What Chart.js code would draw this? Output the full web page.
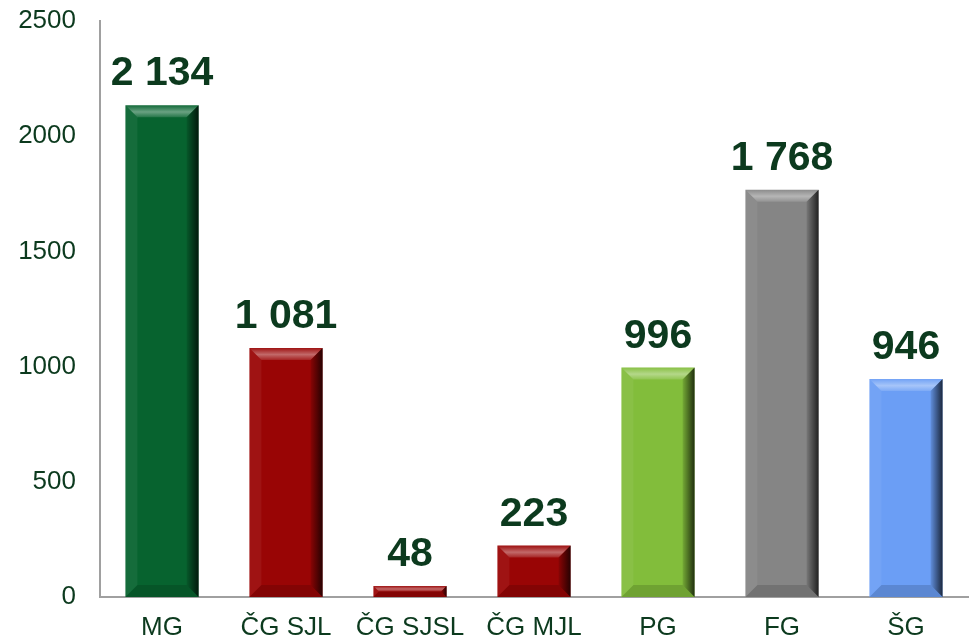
<!DOCTYPE html>
<html>
<head>
<meta charset="utf-8">
<script src="https://cdn.jsdelivr.net/npm/chart.js@4"></script>
<style>
  html, body { margin: 0; padding: 0; background: #fff; }
  #wrap { width: 977px; height: 643px; position: relative; }
</style>
</head>
<body>
<div id="wrap"><canvas id="chart" width="977" height="643"></canvas></div>
<script>
/* global Chart */

const categories = ['MG', 'ČG SJL', 'ČG SJSL', 'ČG MJL', 'PG', 'FG', 'ŠG']
const values = [2134, 1081, 48, 223, 996, 1768, 946]
const barColors = ['#07632f', '#990505', '#990505', '#990505', '#82bd3b', '#858585', '#6b9ef5']
const textColor = '#0c3a1e'
const fontFamily = '"Liberation Sans", Arial, sans-serif'

function formatNum (v) {
  return String(v).replace(/\B(?=(\d{3})+(?!\d))/g, ' ')
}

// bevel overlay on each bar
const bevelPlugin = {
  id: 'bevel',
  afterDatasetsDraw (chart) {
    const ctx = chart.ctx
    chart.getDatasetMeta(0).data.forEach(bar => {
      const l = bar.x - bar.width / 2
      const r = bar.x + bar.width / 2
      const t = bar.y
      const btm = bar.base
      const b = Math.min(12, (btm - t) / 2)
      ctx.save()
      // top band
      let g = ctx.createLinearGradient(0, t, 0, t + b)
      g.addColorStop(0, 'rgba(255,255,255,0.05)')
      g.addColorStop(0.55, 'rgba(255,255,255,0.4)')
      g.addColorStop(1, 'rgba(255,255,255,0.12)')
      ctx.fillStyle = g
      ctx.beginPath()
      ctx.moveTo(l, t); ctx.lineTo(r, t); ctx.lineTo(r - b, t + b); ctx.lineTo(l + b, t + b); ctx.closePath()
      ctx.fill()
      // left band
      ctx.fillStyle = 'rgba(255,255,255,0.06)'
      ctx.beginPath()
      ctx.moveTo(l, t); ctx.lineTo(l + b, t + b); ctx.lineTo(l + b, btm - b); ctx.lineTo(l, btm); ctx.closePath()
      ctx.fill()
      // right band
      g = ctx.createLinearGradient(r - b, 0, r, 0)
      g.addColorStop(0, 'rgba(0,0,0,0.1)')
      g.addColorStop(1, 'rgba(0,0,0,0.75)')
      ctx.fillStyle = g
      ctx.beginPath()
      ctx.moveTo(r, t); ctx.lineTo(r, btm); ctx.lineTo(r - b, btm - b); ctx.lineTo(r - b, t + b); ctx.closePath()
      ctx.fill()
      // bottom band
      ctx.fillStyle = 'rgba(0,0,0,0.14)'
      ctx.beginPath()
      ctx.moveTo(l, btm); ctx.lineTo(r, btm); ctx.lineTo(r - b, btm - b); ctx.lineTo(l + b, btm - b); ctx.closePath()
      ctx.fill()
      ctx.restore()
    })
  }
}

const valueLabels = {
  id: 'valueLabels',
  afterDatasetsDraw (chart) {
    const ctx = chart.ctx
    const ds = chart.data.datasets[0]
    ctx.save()
    ctx.font = 'bold 41px ' + fontFamily
    ctx.fillStyle = textColor
    ctx.textAlign = 'center'
    ctx.textBaseline = 'alphabetic'
    chart.getDatasetMeta(0).data.forEach((bar, i) => {
      ctx.fillText(formatNum(ds.data[i]), bar.x, bar.y - 20)
    })
    ctx.restore()
  }
}

new Chart(document.getElementById('chart'), {
  type: 'bar',
  data: {
    labels: categories,
    datasets: [{
      data: values,
      backgroundColor: barColors,
      borderWidth: 0,
      categoryPercentage: 1,
      barPercentage: 0.59
    }]
  },
  options: {
    responsive: false,
    animation: false,
    layout: { padding: { top: 21, right: 9, left: 0, bottom: 0 } },
    plugins: { legend: { display: false }, tooltip: { enabled: false } },
    scales: {
      x: {
        grid: { display: false, drawTicks: false },
        border: { color: '#a0a0a0', width: 2 },
        ticks: {
          color: textColor,
          font: { family: fontFamily, size: 26 },
          padding: 15
        },
        afterFit (s) {
          s.height = 46
          s.paddingLeft = 0
          s.paddingRight = 0
        }
      },
      y: {
        min: 0,
        max: 2500,
        grid: { display: false, drawTicks: false },
        border: { color: '#a0a0a0', width: 2 },
        ticks: {
          stepSize: 500,
          color: textColor,
          font: { family: fontFamily, size: 26 },
          padding: 24,
          callback: v => String(v)
        },
        afterFit (s) {
          s.width = 100
          s.paddingTop = 0
          s.paddingBottom = 0
        }
      }
    }
  },
  plugins: [bevelPlugin, valueLabels]
})
</script>
</body>
</html>
